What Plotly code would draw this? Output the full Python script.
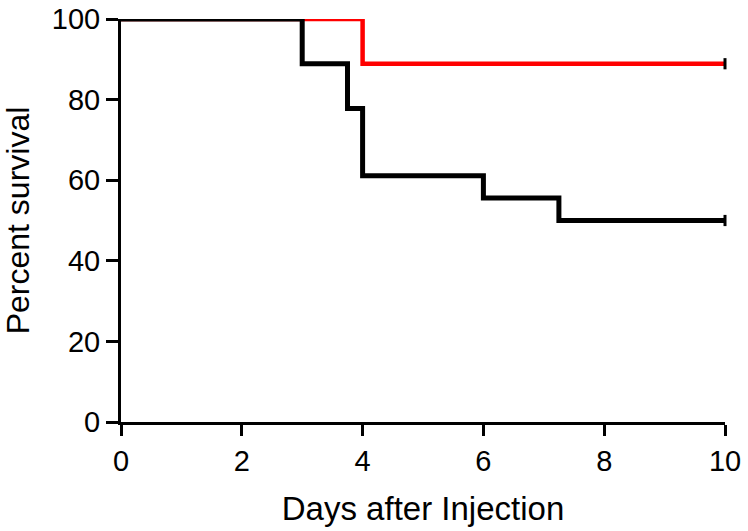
import plotly.graph_objects as go

# Kaplan-Meier survival data (days, percent survival)
black_days = [0, 3, 3.75, 4, 6, 7.25, 10]
black_surv = [100, 88.9, 77.8, 61.1, 55.6, 50, 50]

red_days = [0, 4, 10]
red_surv = [100, 88.9, 88.9]

# censored observations at end of follow-up
censor_days = [10]
black_censor = [50]
red_censor = [88.9]

x_ticks = [0, 2, 4, 6, 8, 10]
y_ticks = [0, 20, 40, 60, 80, 100]

FONT = "Liberation Sans, Arial, Helvetica, sans-serif"

fig = go.Figure()
fig.add_trace(go.Scatter(x=red_days, y=red_surv, mode="lines", line=dict(color="#ff0000", width=4.5, shape="hv"),
                         cliponaxis=False, showlegend=False))
fig.add_trace(go.Scatter(x=censor_days, y=red_censor, mode="markers",
                         marker=dict(symbol="line-ns", size=8, line=dict(color="black", width=3)),
                         cliponaxis=False, showlegend=False))
fig.add_trace(go.Scatter(x=black_days, y=black_surv, mode="lines", line=dict(color="black", width=5, shape="hv"),
                         cliponaxis=False, showlegend=False))
fig.add_trace(go.Scatter(x=censor_days, y=black_censor, mode="markers",
                         marker=dict(symbol="line-ns", size=8, line=dict(color="black", width=3)),
                         cliponaxis=False, showlegend=False))

fig.update_layout(
    width=748, height=531,
    margin=dict(l=121, r=23, t=19, b=109),
    paper_bgcolor="white", plot_bgcolor="white",
    font=dict(family=FONT, color="black", size=29),
)
fig.update_xaxes(
    range=[0, 10], tickvals=x_ticks, ticktext=[str(v) for v in x_ticks],
    showline=True, linecolor="black", linewidth=3,
    ticks="outside", ticklen=11, tickwidth=3, tickcolor="black",
    showgrid=False, zeroline=False, automargin=False, ticklabeloverflow="allow",
    tickfont=dict(size=29),
    title=dict(text="Days after Injection", font=dict(size=33), standoff=22),
)
fig.update_yaxes(
    range=[0, 100], tickvals=y_ticks, ticktext=[str(v) for v in y_ticks],
    showline=True, linecolor="black", linewidth=3,
    ticks="outside", ticklen=12, tickwidth=3, tickcolor="black",
    showgrid=False, zeroline=False, automargin=False, ticklabeloverflow="allow",
    tickfont=dict(size=29),
    title=dict(text="Percent survival", font=dict(size=32), standoff=21),
)

# remove the browser's default 8px body margin so the figure fills the window exactly
fig.write_html("out.html", config={"displayModeBar": False},
               post_script="document.body.style.margin='0';document.body.style.overflow='hidden';")
